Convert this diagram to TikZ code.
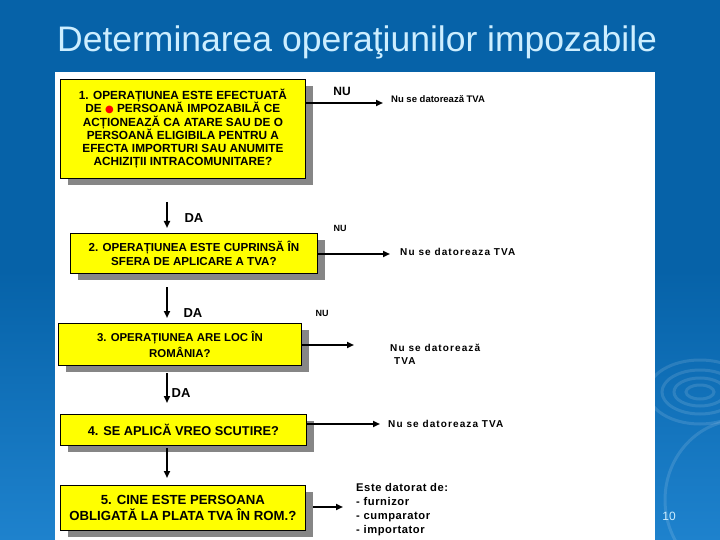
\documentclass[tikz,border=0pt]{standalone}
\usepackage{fontspec}
\setmainfont{Liberation Sans}
\newfontfamily\spaced[LetterSpace=11]{Liberation Sans}
\newfontfamily\spacedb[LetterSpace=5]{Liberation Sans}
\newfontfamily\dejavu{DejaVu Sans}
\usetikzlibrary{arrows.meta,shadows}
\definecolor{bgtop}{RGB}{6,98,168}
\definecolor{bgbot}{RGB}{30,130,205}
\definecolor{titlec}{RGB}{205,238,255}
\definecolor{boxy}{RGB}{255,255,0}
\tikzset{
  ybox/.style={fill=boxy, draw=black, line width=0.8pt, inner sep=0pt, anchor=north west,
    align=center, font=\bfseries,
    drop shadow={shadow xshift=8pt, shadow yshift=-7pt, fill=gray!95, opacity=1}},
  arr/.style={line width=2pt, -{Triangle[length=7pt,width=6pt]}},
  lbl/.style={font=\bfseries, inner sep=0pt},
  rtext/.style={font=\bfseries\fontsize{9.5}{13}\selectfont, inner sep=0pt, anchor=west, align=left},
}
\begin{document}
\begin{tikzpicture}[x=1pt,y=-1pt]
\useasboundingbox (0,0) rectangle (720,540);
% background
\shade[top color=bgtop, bottom color=bgbot, middle color=bgtop] (0,0) rectangle (720,540);
\begin{scope}[white, opacity=0.12, line width=3pt]
  \draw (700,392) ellipse (38pt and 22pt);
  \draw (700,392) ellipse (26pt and 14pt);
  \draw (700,392) ellipse (14pt and 7pt);
  \draw (700,392) ellipse (52pt and 32pt);
  \draw (740,500) ellipse (75pt and 80pt);
\end{scope}
% title
\node[font=\fontsize{35.5}{40}\selectfont, text=titlec, anchor=west, inner sep=0pt] (title) at (57,42) {Determinarea operaţiunilor impozabile};
% white panel
\fill[white] (55,72) rectangle (655,540);
% boxes
\node[ybox, minimum width=245pt, minimum height=99pt, font=\bfseries\fontsize{11.8}{13.2}\selectfont] (b1) at (60,79)
 {1. OPERAȚIUNEA ESTE EFECTUATĂ\\DE {\color{red}\dejavu\fontsize{10}{10}\selectfont ●} PERSOANĂ IMPOZABILĂ CE\\ACȚIONEAZĂ CA ATARE SAU DE O\\PERSOANĂ ELIGIBILA PENTRU A\\EFECTA IMPORTURI SAU ANUMITE\\ACHIZIȚII INTRACOMUNITARE?};
\node[ybox, minimum width=247pt, minimum height=40pt, font=\bfseries\fontsize{11.6}{14}\selectfont] (b2) at (70,233)
 {2. OPERAȚIUNEA ESTE CUPRINSĂ ÎN\\SFERA DE APLICARE A TVA?};
\node[ybox, minimum width=243pt, minimum height=42pt, font=\bfseries\fontsize{11.4}{15.5}\selectfont] (b3) at (58,323)
 {3. OPERAȚIUNEA ARE LOC ÎN\\ROMÂNIA?};
\node[ybox, minimum width=246pt, minimum height=31pt, font=\bfseries\fontsize{12.8}{15}\selectfont] (b4) at (60,414)
 {4. SE APLICĂ VREO SCUTIRE?};
\node[ybox, minimum width=245pt, minimum height=45pt, font=\bfseries\fontsize{13.2}{15.5}\selectfont] (b5) at (60,485)
 {5. CINE ESTE PERSOANA\\OBLIGATĂ LA PLATA TVA ÎN ROM.?};
% down arrows
\coordinate (d1) at (167,202);
\coordinate (d2) at (167,287);
\coordinate (d3) at (167,373);
\coordinate (d4) at (167,448);
\draw[arr, shorten >=5pt] (d1) -- (d1 |- b2.north);
\draw[arr, shorten >=5pt] (d2) -- (d2 |- b3.north);
\draw[arr, shorten >=11pt] (d3) -- (d3 |- b4.north);
\draw[arr, shorten >=7pt] (d4) -- (d4 |- b5.north);
% DA labels
\node[lbl, font=\bfseries\fontsize{13}{15}\selectfont] (da1) at (194,218) {DA};
\node[lbl, font=\bfseries\fontsize{13}{15}\selectfont] (da2) at (193,313) {DA};
\node[lbl, font=\bfseries\fontsize{13}{15}\selectfont] (da3) at (181,393) {DA};
% NU labels
\node[lbl, font=\bfseries\fontsize{12}{14}\selectfont] (nu1) at (342,91) {NU};
\node[lbl, font=\bfseries\fontsize{9}{11}\selectfont] (nu2) at (340,228) {NU};
\node[lbl, font=\bfseries\fontsize{9}{11}\selectfont] (nu3) at (322,313) {NU};
% right-hand texts
\node[rtext] (r1) at (391,99) {Nu se datorează TVA};
\node[rtext, font=\bfseries\spaced\fontsize{10}{13}\selectfont] (r2) at (400,252) {Nu se datoreaza TVA};
\node[rtext, font=\bfseries\spaced\fontsize{10}{13}\selectfont] (r3) at (390,354) {Nu se datorează\\\ TVA};
\node[rtext, font=\bfseries\spaced\fontsize{10}{13}\selectfont] (r4) at (388,424) {Nu se datoreaza TVA};
\node[rtext, anchor=north west, font=\bfseries\spacedb\fontsize{11.2}{14}\selectfont] (r5) at (356,483)
 {Este datorat de:\\- furnizor\\- cumparator\\- importator};
% right arrows
\coordinate (e1) at (383,103);
\coordinate (e2) at (390,254);
\coordinate (e3) at (354,345);
\coordinate (e4) at (380,424);
\coordinate (e5) at (343,507);
\draw[arr] (b1.east |- e1) -- (e1);
\draw[arr] (b2.east |- e2) -- (e2);
\draw[arr] (b3.east |- e3) -- (e3);
\draw[arr] (b4.east |- e4) -- (e4);
\draw[arr] ([xshift=7pt]b5.east |- e5) -- (e5);
% page number
\node[text=titlec, font=\fontsize{12}{14}\selectfont, inner sep=0pt] (pg) at (669,516) {10};
\end{tikzpicture}
\end{document}
